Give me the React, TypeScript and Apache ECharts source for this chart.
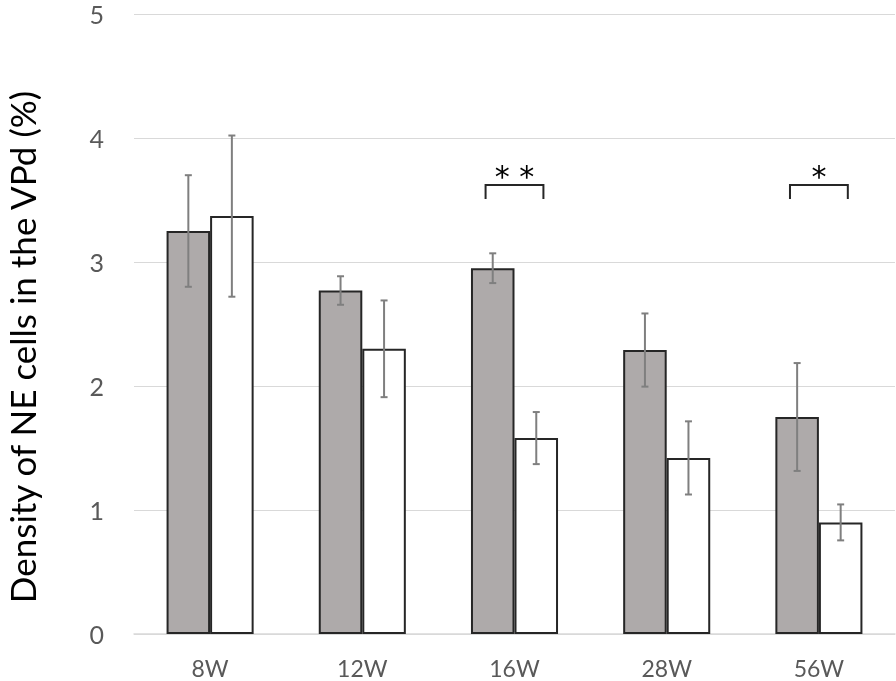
import React, { useEffect, useRef } from "react";
import * as echarts from "echarts";

const categories = ["8W", "12W", "16W", "28W", "56W"];
const grayValues = [3.25, 2.77, 2.95, 2.29, 1.75];
const grayErrors = [0.45, 0.115, 0.12, 0.295, 0.435];
const whiteValues = [3.37, 2.3, 1.58, 1.42, 0.9];
const whiteErrors = [0.65, 0.39, 0.21, 0.295, 0.145];
const yTicks = [0, 1, 2, 3, 4, 5];
// significance brackets: [category index, bracket height (value), label]
const brackets: [number, number, string][] = [
  [2, 3.62, "* *"],
  [4, 3.62, "*"],
];

const FONT = "Lato, 'Noto Sans', sans-serif";
const BAR_RATIO = 0.286;

export default function App() {
  const ref = useRef<HTMLDivElement>(null);

  useEffect(() => {
    if (!ref.current) return;
    const chart = echarts.init(ref.current, undefined, { renderer: "svg" });

    const errorSeries = (values: number[], errors: number[], side: number) => ({
      type: "custom",
      z: 10,
      data: values.map((v, i) => [i, v - errors[i], v + errors[i]]),
      renderItem: (params: any, api: any) => {
        const idx = api.value(0);
        const band = api.size([1, 0])[0];
        const off = side * band * BAR_RATIO * 0.5;
        const lo = api.coord([idx, api.value(1)]);
        const hi = api.coord([idx, api.value(2)]);
        const x = lo[0] + off;
        const cap = 3.5;
        const style = { stroke: "#7f7f7f", lineWidth: 2, fill: "none" };
        return {
          type: "group",
          children: [
            { type: "line", shape: { x1: x, y1: lo[1], x2: x, y2: hi[1] }, style },
            { type: "line", shape: { x1: x - cap, y1: lo[1], x2: x + cap, y2: lo[1] }, style },
            { type: "line", shape: { x1: x - cap, y1: hi[1], x2: x + cap, y2: hi[1] }, style },
          ],
        };
      },
      encode: { x: 0, y: [1, 2] },
      silent: true,
    });

    chart.setOption({
      animation: false,
      grid: { left: 134, right: 1, top: 14, bottom: 47 },
      xAxis: {
        type: "category",
        data: categories,
        axisLine: { lineStyle: { color: "#d9d9d9", width: 1.5 } },
        axisTick: { show: false },
        axisLabel: {
          color: "#595959",
          fontSize: 23,
          lineHeight: 24,
          fontFamily: FONT,
          margin: 22,
        },
      },
      yAxis: {
        type: "value",
        min: yTicks[0],
        max: yTicks[yTicks.length - 1],
        interval: 1,
        axisLine: { show: false },
        axisTick: { show: false },
        splitLine: { lineStyle: { color: "#d9d9d9", width: 1 } },
        axisLabel: {
          color: "#595959",
          fontSize: 25,
          lineHeight: 22,
          fontFamily: FONT,
          margin: 30,
          padding: [5, 0, 0, 0],
        },
      },
      graphic: [
        {
          type: "text",
          x: 22,
          y: 347,
          rotation: Math.PI / 2,
          style: {
            text: "Density of NE cells in the VPd (%)",
            fontSize: 35,
            fontFamily: FONT,
            fill: "#000",
            align: "center",
            verticalAlign: "middle",
          },
        },
      ],
      series: [
        {
          type: "bar",
          data: grayValues,
          barWidth: BAR_RATIO * 100 + "%",
          barGap: "0%",
          itemStyle: { color: "#aeaaaa", borderColor: "#262626", borderWidth: 2 },
        },
        {
          type: "bar",
          data: whiteValues,
          barWidth: BAR_RATIO * 100 + "%",
          barGap: "0%",
          itemStyle: { color: "#ffffff", borderColor: "#262626", borderWidth: 2 },
        },
        errorSeries(grayValues, grayErrors, -1),
        errorSeries(whiteValues, whiteErrors, 1),
        {
          type: "custom",
          z: 11,
          data: brackets.map((b) => [b[0], b[1]]),
          encode: { x: 0, y: 1 },
          renderItem: (params: any, api: any) => {
            const idx = api.value(0);
            const band = api.size([1, 0])[0];
            const half = band * 0.19;
            const p = api.coord([idx, api.value(1)]);
            const label = brackets[params.dataIndex][2];
            const tick = 14;
            return {
              type: "group",
              children: [
                {
                  type: "polyline",
                  shape: {
                    points: [
                      [p[0] - half, p[1] + tick],
                      [p[0] - half, p[1]],
                      [p[0] + half, p[1]],
                      [p[0] + half, p[1] + tick],
                    ],
                  },
                  style: { stroke: "#262626", lineWidth: 2, fill: "none" },
                },
                {
                  type: "text",
                  x: p[0],
                  y: p[1] + 6,
                  style: {
                    text: label,
                    fontSize: 30,
                    fontFamily: "'DejaVu Sans', sans-serif",
                    fill: "#000",
                    align: "center",
                    verticalAlign: "bottom",
                  },
                },
              ],
            };
          },
          silent: true,
        },
      ],
    });

    return () => chart.dispose();
  }, []);

  return (
    <div
      ref={ref}
      style={{ position: "fixed", left: 0, top: 0, width: 896, height: 681 }}
    />
  );
}
